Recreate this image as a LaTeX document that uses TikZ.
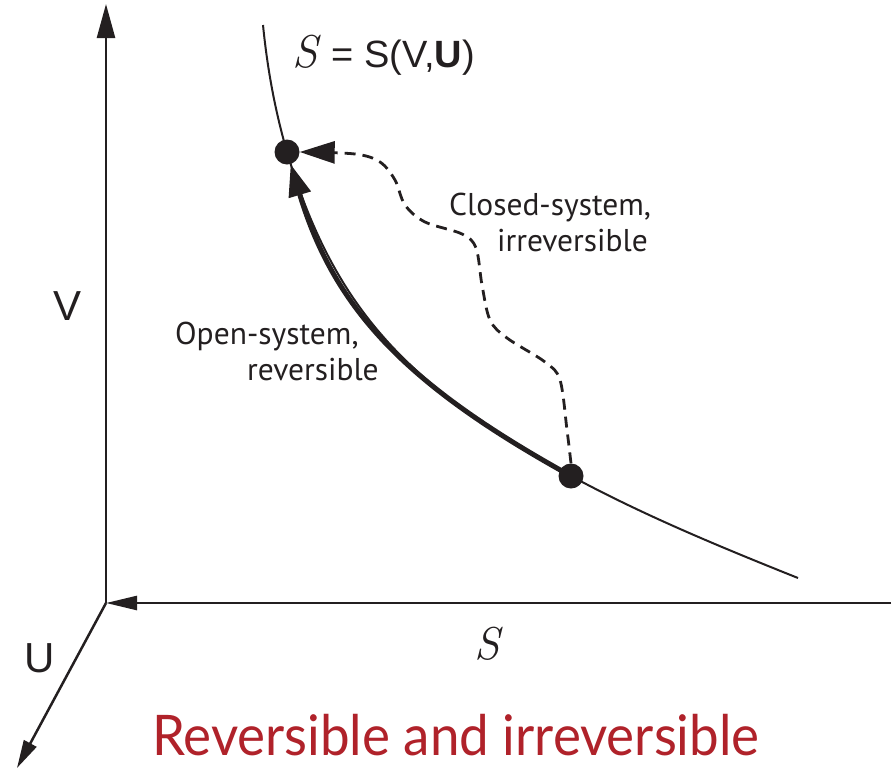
\documentclass[tikz,border=0pt]{standalone}
\usepackage{fontspec}
\usetikzlibrary{arrows.meta}
\newfontfamily\helv{Liberation Sans}
\newfontfamily\myr{PT Sans}
\newfontfamily\gill{Lato}
\definecolor{titlered}{HTML}{B0222A}
\definecolor{ink}{HTML}{231F20}
\begin{document}
\begin{tikzpicture}[x=1pt,y=-1pt,
  axis/.style={line width=2.5pt, draw=ink},
  curve/.style={line width=2pt, draw=ink},
  dotspot/.style={circle, minimum size=25pt, inner sep=0pt},
  lbl/.style={inner sep=0pt, font=\myr\fontsize{31.5}{36}\selectfont, align=left, text=ink},
  axlbl/.style={inner sep=0pt, font=\helv\fontsize{42}{42}\selectfont, text=ink},
 ]
\useasboundingbox (0,0) rectangle (895,769);
\coordinate (O) at (106,603);
\coordinate (vtop) at (106,4);
\coordinate (hend) at (891,603);
\coordinate (uend) at (17,768);
\draw[axis, -{Triangle[length=34pt,width=18pt]}] (O) -- (vtop);
\draw[axis, -{Triangle[length=31pt,width=14pt]}] (hend) -- (O);
\draw[axis, -{Triangle[length=28pt,width=14pt]}] (O) -- (uend);

\node[dotspot] (a) at (287,152) {};
\node[dotspot] (b) at (571,476) {};
\coordinate (ctop) at (263,25);
\coordinate (cend) at (798,578);
\draw[curve] (ctop) .. controls (267,65) and (274,107) .. (a.center)
  .. controls (335,312) and (410,387) .. (b.center)
  .. controls (645,516) and (723,548) .. (cend);
\draw[line width=5pt, draw=ink, -{Triangle[length=32pt,width=22pt]}] (b.center) .. controls (410,387) and (335,312) .. (a);
\draw[line width=2.8pt, draw=ink, dash pattern=on 11pt off 7pt, -{Triangle[length=35pt,width=22pt]}]
  plot[smooth, tension=0.55] coordinates {(b.north) (567,430) (560,380) (545,362) (507,338) (490,320) (482,285) (476,248) (462,234) (425,222) (405,205) (395,180) (380,162) (355,154) (a.east)};
\fill[ink] (a.center) circle[radius=12.5pt];
\fill[ink] (b.center) circle[radius=12.5pt];

\node[lbl, anchor=base west] (open) at (175,380) {Open-system,\\\hspace*{72pt}reversible};
\node[lbl, anchor=base west] (closed) at (449,251) {Closed-system,\\\hspace*{48pt}irreversible};

\node[inner sep=0pt, anchor=base west, text=ink] (eq) at (292,67) {{\fontsize{46}{46}\selectfont\itshape S}\hspace{14pt}{\helv\fontsize{38}{38}\selectfont = S(V,\textbf{U})}};
\node[axlbl] (vlab) at (68,306) {V};
\node[axlbl] (ulab) at (40,658) {U};
\node[inner sep=0pt, text=ink, font=\fontsize{46}{46}\selectfont\itshape] (slab) at (487,644) {S};
\node[inner sep=0pt, anchor=base west, text=titlered] (title) at (152,755) {\scalebox{0.945}[1]{\gill\fontsize{56}{56}\selectfont Reversible and irreversible}};
\end{tikzpicture}
\end{document}
